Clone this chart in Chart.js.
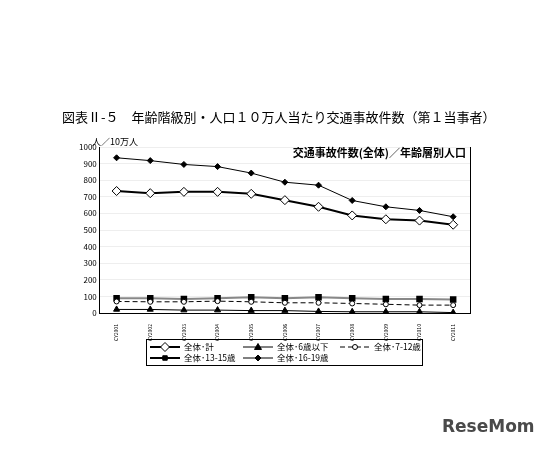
<!DOCTYPE html>
<html><head><meta charset="utf-8">
<script src="https://cdn.jsdelivr.net/npm/chart.js@4"></script>
<style>body{margin:0;background:#fff}#wrap{width:550px;height:450px}</style>
</head><body><div id="wrap"><canvas id="c"></canvas></div>
<script>
const years = ['CY2001','CY2002','CY2003','CY2004','CY2005','CY2006','CY2007','CY2008','CY2009','CY2010','CY2011'];
const total = [735,722,730,730,718,680,640,588,565,557,532];
const under6 = [22,22,18,18,15,15,10,8,8,8,3];
const age7to12 = [70,68,68,72,68,62,62,58,53,48,48];
const age13to15 = [90,90,85,90,95,90,95,90,85,85,82];
const age16to19 = [935,918,895,882,843,788,770,678,640,618,580];
const legendNames = ['全体･計','全体･6歳以下','全体･7-12歳','全体･13-15歳','全体･16-19歳'];
const F = '"Noto Sans CJK JP", sans-serif';

const overlay = {
  id: 'overlay',
  afterDraw(chart) {
    const c = chart.ctx, a = chart.chartArea;
    c.save();
    c.fillStyle = '#000';
    c.font = '13px ' + F;
    c.textBaseline = 'middle';
    c.fillText('図表Ⅱ-５　年齢階級別・人口１０万人当たり交通事故件数（第１当事者）', 62, 117);
    c.font = '9px ' + F;
    c.fillText('人／10万人', 92, 142);
    c.font = 'bold 11px ' + F;
    c.textAlign = 'right';
    c.fillText('交通事故件数(全体)／年齢層別人口', a.right - 4, 153);
    c.strokeStyle = '#000'; c.lineWidth = 1;
    c.beginPath(); c.moveTo(a.right + 0.5, a.top); c.lineTo(a.right + 0.5, a.bottom); c.stroke();
    // legend
    c.textAlign = 'left';
    c.strokeRect(146.5, 339.5, 276, 26);
    c.font = '8.5px ' + F;
    const pos = [[150,347],[243,347],[340,347],[150,358],[243,358]];
    chart.data.datasets.forEach((ds, i) => {
      const [x, y] = pos[i];
      c.strokeStyle = '#000';
      c.lineWidth = ds.borderWidth;
      c.setLineDash(ds.borderDash || []);
      c.beginPath(); c.moveTo(x, y); c.lineTo(x + 30, y); c.stroke();
      c.setLineDash([]);
      c.lineWidth = 1;
      const px = x + 15, r = ds.pointRadius;
      c.fillStyle = ds.pointBackgroundColor;
      c.beginPath();
      if (ds.pointStyle === 'rectRot') { c.moveTo(px, y - r); c.lineTo(px + r, y); c.lineTo(px, y + r); c.lineTo(px - r, y); c.closePath(); }
      else if (ds.pointStyle === 'triangle') { c.moveTo(px, y - r); c.lineTo(px + r, y + r * 0.7); c.lineTo(px - r, y + r * 0.7); c.closePath(); }
      else if (ds.pointStyle === 'rect') { c.rect(px - r * 0.7, y - r * 0.7, r * 1.4, r * 1.4); }
      else { c.arc(px, y, r, 0, Math.PI * 2); }
      c.fill(); c.stroke();
      c.fillStyle = '#000';
      c.fillText(legendNames[i], x + 34, y);
    });
    c.font = 'bold 17px "DejaVu Sans", sans-serif';
    c.fillStyle = '#4a4a4a';
    c.fillText('ReseMom', 442, 428);
    c.restore();
  }
};

new Chart(document.getElementById('c'), {
  type: 'line',
  data: {
    labels: years,
    datasets: [
      { data: total, borderColor: '#000', borderWidth: 2, pointStyle: 'rectRot', pointRadius: 4.5, pointBackgroundColor: '#fff', pointBorderColor: '#000', pointBorderWidth: 1 },
      { data: under6, borderColor: '#000', borderWidth: 1, pointStyle: 'triangle', pointRadius: 3.5, pointBackgroundColor: '#000', pointBorderColor: '#000' },
      { data: age7to12, borderColor: '#000', borderWidth: 1, borderDash: [5, 3], pointStyle: 'circle', pointRadius: 2.5, pointBackgroundColor: '#fff', pointBorderColor: '#000' },
      { data: age13to15, borderColor: '#888', borderWidth: 2, pointStyle: 'rect', pointRadius: 3.2, pointBackgroundColor: '#000', pointBorderColor: '#000' },
      { data: age16to19, borderColor: '#000', borderWidth: 1, pointStyle: 'rectRot', pointRadius: 3, pointBackgroundColor: '#000', pointBorderColor: '#000' }
    ]
  },
  options: {
    responsive: true, maintainAspectRatio: false, animation: false,
    layout: { padding: { top: 147, left: 76, right: 80, bottom: 106 } },
    plugins: { legend: { display: false }, tooltip: { enabled: false } },
    scales: {
      x: {
        offset: true,
        grid: { display: false },
        border: { color: '#000' },
        ticks: { color: '#000', font: { size: 5, family: F }, maxRotation: 90, minRotation: 90, autoSkip: false }
      },
      y: {
        min: 0, max: 1000,
        ticks: { stepSize: 100, color: '#000', font: { size: 8, family: F }, callback: v => String(v) },
        grid: { color: '#eee', drawTicks: false },
        border: { color: '#000' }
      }
    }
  },
  plugins: [overlay]
});
</script></body></html>
